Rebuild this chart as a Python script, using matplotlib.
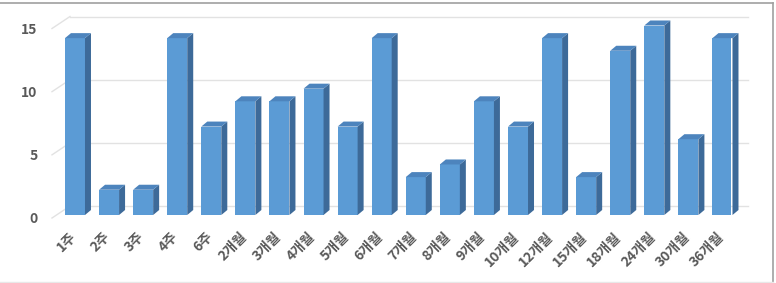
import numpy as np
import matplotlib
matplotlib.use("Agg")
import matplotlib.pyplot as plt
from matplotlib.patches import Polygon
from matplotlib.lines import Line2D

plt.rcParams['font.family'] = ['Noto Sans CJK KR', 'DejaVu Sans']

# data
labels = ['1주', '2주', '3주', '4주', '6주', '2개월', '3개월', '4개월', '5개월', '6개월',
          '7개월', '8개월', '9개월', '10개월', '12개월', '15개월', '18개월', '24개월', '30개월', '36개월']
values = [14, 2, 2, 14, 7, 9, 9, 10, 7, 14, 3, 4, 9, 7, 14, 3, 13, 15, 6, 14]
yticks = [0, 5, 10, 15]

W, H = 776, 283
fig = plt.figure(figsize=(W / 100, H / 100), dpi=100)
ax = fig.add_axes([53 / W, (H - 215) / H, 678 / W, 189.5 / H])
ax.set_xlim(-0.645, 19.25)
ax.set_ylim(0, 15)
ax.axis('off')

front = '#5b9bd5'
side = '#3d6a99'
top = '#4d84bd'
grid_c = '#e2e2e2'
txt_c = '#595959'

# depth offsets in pixels
bdx, bdy = 6, 5        # bar depth
wdx, wdy = 17, 9       # back wall


def px(x, y):
    return ax.transData.transform((x, y))


x = np.arange(len(labels))
width = 0.587

# back wall gridlines + left floor diagonals (behind the bars)
x_left, x_right = ax.get_xlim()
for v in yticks:
    fx, fy = px(x_left, v)
    rx, _ = px(x_right, v)
    ax.add_line(Line2D([fx + wdx, rx + wdx], [fy + wdy, fy + wdy], transform=None,
                       color=grid_c, lw=1, zorder=1, clip_on=False))
    ax.add_line(Line2D([fx - 1, fx + wdx], [fy - 3, fy + wdy], transform=None,
                       color=grid_c, lw=1, zorder=1, clip_on=False))

# bars
ax.bar(x, values, width=width, color=front, zorder=3)
for xi, v in zip(x, values):
    x0, y0 = px(xi - width / 2, 0)
    x1, y1 = px(xi + width / 2, v)
    ax.add_patch(Polygon([(x1, y0), (x1, y1), (x1 + bdx, y1 + bdy), (x1 + bdx, y0 + bdy)],
                         closed=True, transform=None, facecolor=side, edgecolor='none',
                         zorder=4, clip_on=False))
    ax.add_patch(Polygon([(x0, y1), (x1, y1), (x1 + bdx, y1 + bdy), (x0 + bdx, y1 + bdy)],
                         closed=True, transform=None, facecolor=top, edgecolor='none',
                         zorder=4, clip_on=False))

# y tick labels
for v in yticks:
    fx, fy = px(x_left, v)
    fig.text((fx - 15.5) / W, (fy - 4) / H, str(v), ha='right', va='center',
             fontsize=10, fontweight='bold', color=txt_c)

# x tick labels
for xi, lab in zip(x, labels):
    cx, cy = px(xi, 0)
    fig.text((cx - 1) / W, (cy - 20) / H, lab, ha='right', va='center', rotation=45,
             rotation_mode='anchor', fontsize=10, fontweight='bold', color=txt_c)

# outer frame
fig.add_artist(Line2D([0, 773], [H - 3, H - 3], transform=None, color='#a0a0a0', lw=1.2))
fig.add_artist(Line2D([773, 773], [H - 3, 1], transform=None, color='#a0a0a0', lw=1.2))
fig.add_artist(Line2D([0, 773], [1, 1], transform=None, color='#e8e8e8', lw=1))

fig.savefig('out.png', dpi=100)
